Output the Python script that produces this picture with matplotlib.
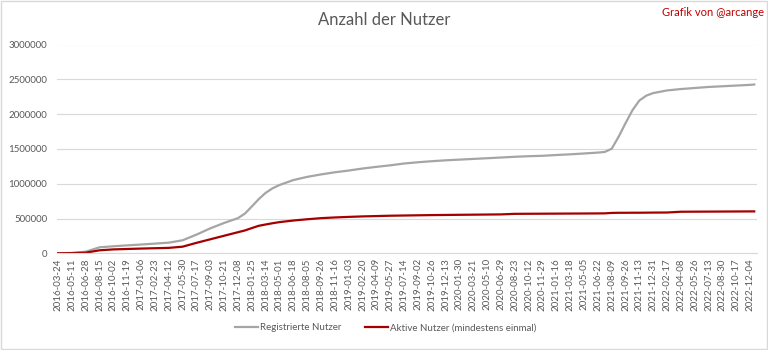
import matplotlib
matplotlib.use("Agg")
import matplotlib.pyplot as plt
from matplotlib.patches import Rectangle

plt.rcParams["font.family"] = ["Lato", "DejaVu Sans"]

# Category labels shown on the x axis (one every 48 samples)
tick_labels = [
    "2016-03-24", "2016-05-11", "2016-06-28", "2016-08-15", "2016-10-02",
    "2016-11-19", "2017-01-06", "2017-02-23", "2017-04-12", "2017-05-30",
    "2017-07-17", "2017-09-03", "2017-10-21", "2017-12-08", "2018-01-25",
    "2018-03-14", "2018-05-01", "2018-06-18", "2018-08-05", "2018-09-26",
    "2018-11-16", "2019-01-03", "2019-02-20", "2019-04-09", "2019-05-27",
    "2019-07-14", "2019-09-02", "2019-10-26", "2019-12-13", "2020-01-30",
    "2020-03-21", "2020-05-10", "2020-06-29", "2020-08-23", "2020-10-12",
    "2020-11-29", "2021-01-16", "2021-03-18", "2021-05-05", "2021-06-22",
    "2021-08-09", "2021-09-26", "2021-11-13", "2021-12-31", "2022-02-17",
    "2022-04-08", "2022-05-26", "2022-07-13", "2022-08-30", "2022-10-17",
    "2022-12-04",
]

# Sample positions in label units, with the series values at each position
positions = [
    0, 1, 2, 3, 4, 5, 6, 7, 8, 9, 10, 11, 12, 13, 13.5, 14, 14.5, 15, 15.5,
    16, 17, 18, 19, 20, 21, 22, 23, 24, 25, 26, 27, 28, 29, 30, 31, 32, 33,
    34, 35, 36, 37, 38, 39, 39.5, 40, 40.5, 41, 41.5, 42, 42.5, 43, 44, 45,
    46, 47, 48, 49, 50, 50.3,
]
registered = [
    0, 5000, 23000, 86000, 101000, 114000, 126000, 139000, 153000, 187000,
    268000, 358000, 436000, 505000, 570000, 672000, 778000, 868000, 934000,
    981000, 1052000, 1098000, 1133000, 1164000, 1189000, 1218000, 1242000,
    1264000, 1290000, 1308000, 1323000, 1336000, 1346000, 1356000, 1366000,
    1376000, 1387000, 1395000, 1401000, 1412000, 1422000, 1434000, 1447000,
    1456000, 1502000, 1673000, 1869000, 2055000, 2195000, 2265000, 2302000,
    2340000, 2360000, 2375000, 2390000, 2400000, 2410000, 2420000, 2425000,
]
active = [
    0, 3000, 9000, 43000, 56000, 62000, 68000, 73000, 78000, 95000,
    150000, 201000, 252000, 303000, 328000, 362000, 395000, 414000, 432000,
    448000, 471000, 489000, 505000, 515000, 523000, 530000, 535000,
    540000, 543000, 546000, 549000, 551000, 553000, 555000, 557000,
    559000, 567000, 568000, 569000, 570000, 571000, 572000, 573000,
    574000, 580000, 582000, 582000, 583000, 583000, 584000, 585000,
    586000, 597000, 598000, 599000, 600000, 601000, 602000, 602000,
]

y_ticks = [0, 500000, 1000000, 1500000, 2000000, 2500000, 3000000]

W, H = 768, 350
fig = plt.figure(figsize=(W / 100, H / 100), dpi=100)
fig.patch.set_facecolor("white")

left, right, top, bottom = 57, 757, 44.5, 253.3
ax = fig.add_axes([left / W, 1 - bottom / H, (right - left) / W, (bottom - top) / H])

ax.plot(positions, registered, color="#a5a5a5", lw=1.6,
        label="Registrierte Nutzer", solid_joinstyle="round")
ax.plot(positions, active, color="#a50000", lw=1.6,
        label="Aktive Nutzer (mindestens einmal)", solid_joinstyle="round")

ax.set_ylim(0, 3000000)
ax.set_yticks(y_ticks)
ax.set_yticklabels([str(v) for v in y_ticks], fontsize=7, color="#595959")
ax.set_xlim(-0.072, 50.5)
ax.set_xticks(range(len(tick_labels)))
ax.set_xticklabels(tick_labels, rotation=90, fontsize=7, color="#595959")
ax.tick_params(axis="both", length=0)
ax.tick_params(axis="y", pad=7)
ax.tick_params(axis="x", pad=3.5)

ax.grid(axis="y", color="#d9d9d9", lw=0.8)
ax.set_axisbelow(True)
for side in ("left", "right", "top"):
    ax.spines[side].set_visible(False)
ax.spines["bottom"].set_color("#d9d9d9")
ax.spines["bottom"].set_linewidth(0.8)

fig.text(384 / W, 1 - 20 / H, "Anzahl der Nutzer", ha="center", va="center",
         fontsize=12, color="#595959")
fig.text(764 / W, 1 - 13 / H, "Grafik von @arcange", ha="right", va="center",
         fontsize=8, color="#c00000")

fig.legend(loc="center", bbox_to_anchor=(386 / W, 1 - 328 / H), ncol=2,
           frameon=False, fontsize=7, handlelength=2.3, columnspacing=2.4,
           handletextpad=0.3, labelcolor="#595959")

# Outer chart frame
fig.patches.append(Rectangle((0.5 / W, 1.5 / H), 766 / W, 347.5 / H,
                             transform=fig.transFigure, fill=False,
                             edgecolor="#d9d9d9", lw=1))

fig.savefig("out.png", dpi=100)
